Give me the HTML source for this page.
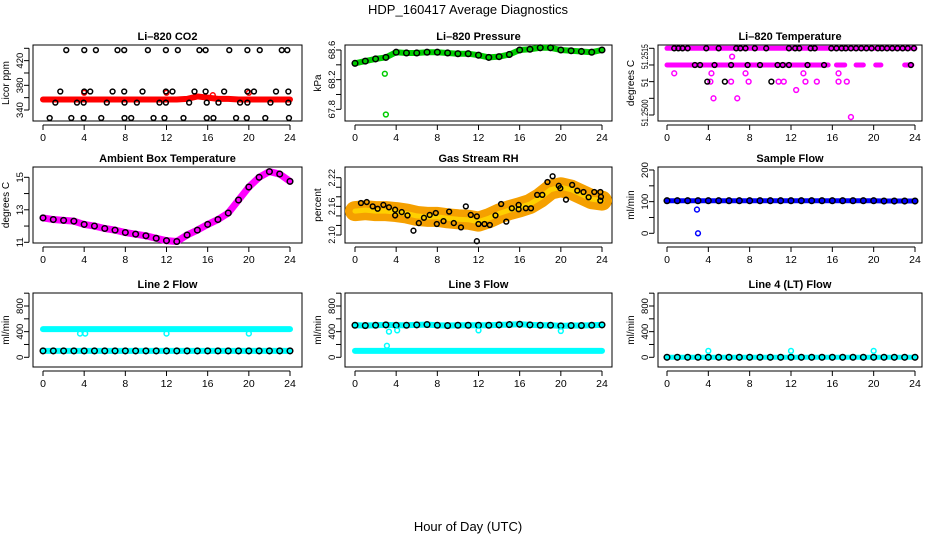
<!DOCTYPE html>
<html><head><meta charset="utf-8">
<style>
html,body{margin:0;padding:0;background:#fff;}
svg{display:block;font-family:"Liberation Sans",Arial,sans-serif;}
</style></head>
<body>
<svg id="c" width="936" height="540" viewBox="0 0 936 540" xmlns="http://www.w3.org/2000/svg">
<text x="468" y="14" text-anchor="middle" font-size="13">HDP_160417  Average Diagnostics</text>
<text x="468" y="531" text-anchor="middle" font-size="13">Hour of Day (UTC)</text>
</svg>
<script>
// ---------- data ----------
const hours = [0,1,2,3,4,5,6,7,8,9,10,11,12,13,14,15,16,17,18,19,20,21,22,23,24];
const xTicks = [0,4,8,12,16,20,24];
// CO2
const co2Red = [357,357,357,357,357,357,357,357,357,357,357,357,357,357,358,362,360,358,358,357,357,357,357,357,357];
const co2RedOutT = [4,12,16.5,20];
const co2RedOutV = [368,368,364,368];
const co2BlackT = [2.26,4.01,5.14,7.24,7.89,10.19,11.94,13.1,15.2,15.8,18.1,19.86,21.06,23.2,23.74,
 1.68,4.01,4.59,6.76,7.89,9.67,11.94,12.58,14.72,15.8,17.6,19.86,20.5,22.64,23.84,
 1.2,3.3,3.95,6.2,7.92,9.12,11.32,11.94,14.2,15.91,17.05,19.15,19.86,22.1,23.84,
 0.65,2.75,3.95,5.66,7.92,8.57,10.74,11.8,13.65,15.91,16.56,18.76,19.8,21.6,23.9];
const co2BlackV = [437,437,437,437,437,437,437,437,437,437,437,437,437,437,437,
 370,370,370,370,370,370,370,370,370,370,370,370,370,370,370,
 352,352,352,352,352,352,352,352,352,352,352,352,352,352,352,
 327,327,327,327,327,327,327,327,327,327,327,327,327,327,327];
// Pressure
const pres = [68.42,68.45,68.48,68.5,68.57,68.56,68.56,68.57,68.57,68.56,68.55,68.55,68.53,68.5,68.51,68.54,68.6,68.61,68.63,68.63,68.6,68.59,68.58,68.57,68.6];
const presOutT = [2.9,3.0];
const presOutV = [68.28,67.73];
// Li-820 temperature
const tempBandStart = [0,0,16.4,18.3,20.2,23];
const tempBandEnd = [24,15.6,17.2,19,20.7,23.7];
const tempBandV = [51.2516,51.2512,51.2512,51.2512,51.2512,51.2512];
const tempMagT = [0.7,4.3,7.6,13.2,16.6,4.2,6.2,7.9,10.8,11.3,13.4,14.5,16.6,17.4,6.3,12.5,4.5,6.8,17.8];
const tempMagV = [51.2510,51.2510,51.2510,51.2510,51.2510,51.2508,51.2508,51.2508,51.2508,51.2508,51.2508,51.2508,51.2508,51.2508,51.2514,51.2506,51.2504,51.2504,51.24995];
const tempBlkT = [0.7,1.1,1.5,2,3.8,5,6.7,7.1,7.6,8.5,9.6,11.8,12.4,12.8,13.9,14.3,15.9,16.4,16.9,17.3,17.8,18.3,18.8,19.3,19.8,20.4,20.8,21.3,21.8,22.3,22.8,23.3,23.9,
 2.7,3.2,4.6,6.2,7.8,9.0,10.7,11.2,11.8,13.6,15.2,23.6, 3.9,5.6,10.1];
const tempBlkV = [51.2516,51.2516,51.2516,51.2516,51.2516,51.2516,51.2516,51.2516,51.2516,51.2516,51.2516,51.2516,51.2516,51.2516,51.2516,51.2516,51.2516,51.2516,51.2516,51.2516,51.2516,51.2516,51.2516,51.2516,51.2516,51.2516,51.2516,51.2516,51.2516,51.2516,51.2516,51.2516,51.2516,
 51.2512,51.2512,51.2512,51.2512,51.2512,51.2512,51.2512,51.2512,51.2512,51.2512,51.2512,51.2512, 51.2508,51.2508,51.2508];
// Ambient box temperature
const amb = [12.5,12.4,12.35,12.3,12.1,12.0,11.85,11.75,11.6,11.5,11.4,11.25,11.1,11.05,11.45,11.75,12.1,12.4,12.8,13.6,14.4,15.0,15.35,15.2,14.75];
// Gas stream RH
const rh = [2.150,2.152,2.150,2.150,2.148,2.145,2.140,2.138,2.138,2.135,2.133,2.132,2.128,2.135,2.145,2.152,2.158,2.165,2.178,2.195,2.200,2.195,2.185,2.175,2.172];
const rhBlkT = [0.58,1.14,1.72,2.2,2.76,3.3,3.9,3.9,4.54,5.1,5.68,6.2,6.7,7.26,7.85,7.95,8.6,9.15,9.6,10.3,10.77,11.25,11.84,11.84,12,12.58,13.1,13.65,14.2,14.7,15.24,15.9,15.9,16.6,17.1,17.7,18.2,18.7,19.2,19.8,19.95,20.5,21.1,21.6,22.2,22.7,23.25,23.84,23.84,23.9];
const rhBlkV = [2.167,2.169,2.16,2.155,2.163,2.158,2.153,2.141,2.148,2.141,2.109,2.125,2.136,2.142,2.146,2.123,2.129,2.149,2.125,2.116,2.16,2.142,2.139,2.087,2.123,2.123,2.121,2.141,2.165,2.128,2.156,2.163,2.154,2.156,2.156,2.184,2.184,2.211,2.223,2.203,2.198,2.174,2.205,2.193,2.19,2.179,2.19,2.19,2.172,2.18];
// Sample flow
const sflow = [103,103,103,103,103,103,103,103,103,103,103,103,103,103,103,103,103,103,103,103,103,102,102,102,102];
const sflowOutT = [2.9,3.0];
const sflowOutV = [75,0];
// Line 2
const l2High = [440,440,440,440,440,440,440,440,440,440,440,440,440,440,440,440,440,440,440,440,440,440,440,440,440];
const l2Low = [100,100,100,100,100,100,100,100,100,100,100,100,100,100,100,100,100,100,100,100,100,100,100,100,100];
const l2OutT = [3.6,4.1,12,20];
const l2OutV = [370,370,370,370];
// Line 3
const l3High = [500,495,500,505,500,500,505,510,500,495,500,500,500,500,505,510,515,505,500,500,490,495,495,500,505];
const l3Low = [100,100,100,100,100,100,100,100,100,100,100,100,100,100,100,100,100,100,100,100,100,100,100,100,100];
const l3OutT = [3.1,3.3,4.1,12,20];
const l3OutV = [180,400,420,420,410];
// Line 4
const l4 = [0,0,0,0,0,0,0,0,0,0,0,0,0,0,0,0,0,0,0,0,0,0,0,0,0];
const l4OutT = [4,12,20];
const l4OutV = [100,100,100];

// ---------- drawing ----------
const svg = document.getElementById('c');
const NS = 'http://www.w3.org/2000/svg';
function mk(tag, attrs, parent){ const e=document.createElementNS(NS,tag); for(const k in attrs) e.setAttribute(k,attrs[k]); (parent||svg).appendChild(e); return e; }

function panel(o){
  const g = mk('g',{});
  
  
  const xs = t => o.x0 + (t/24)*(o.x24-o.x0);
  const ys = v => o.ya + (v-o.va)/(o.vb-o.va)*(o.yb-o.ya);
  const box = mk('rect',{x:o.L,y:o.T,width:o.R-o.L,height:o.B-o.T,fill:'none',stroke:'#000','stroke-width':1},g);
  
  
  const t = mk('text',{x:(o.L+o.R)/2,y:o.T-5,'text-anchor':'middle','font-size':11,'font-weight':'bold'},g);
  t.textContent=o.title;
  
  
  // x axis
  const xa = mk('g',{},g);
  
  
  mk('line',{x1:xs(0),x2:xs(24),y1:o.B+4,y2:o.B+4,stroke:'#000'},xa);
  xTicks.forEach(v=>{
    mk('line',{x1:xs(v),x2:xs(v),y1:o.B+4,y2:o.B+9,stroke:'#000'},xa);
    const l=mk('text',{x:xs(v),y:o.B+20,'text-anchor':'middle','font-size':10.5},xa);
    l.textContent=v;
  });
  // y axis
  const ya = mk('g',{},g);
  
  
  const ax = o.L-4;
  mk('line',{x1:ax,x2:ax,y1:ys(o.yticks[0]),y2:ys(o.yticks[o.yticks.length-1]),stroke:'#000'},ya);
  o.yticks.forEach(v=>{ mk('line',{x1:ax,x2:ax-5,y1:ys(v),y2:ys(v),stroke:'#000'},ya); });
  const fs = o.yfs || 9.5;
  o.ylabels.forEach((v,i)=>{
    const yy = ys(o.ylabelPos ? o.ylabelPos[i] : v);
    const attrs = {x:ax-9,y:yy+3,'text-anchor':'middle','font-size':fs,transform:`rotate(-90 ${ax-9} ${yy})`};
    if(o.ylabelLen) { attrs.textLength = o.ylabelLen[i]; attrs.lengthAdjust='spacingAndGlyphs'; }
    const l=mk('text',attrs,ya);
    l.textContent=v;
  });
  const yt = mk('text',{x:o.L-24,y:(o.T+o.B)/2,'text-anchor':'middle','font-size':10,transform:`rotate(-90 ${o.L-24} ${(o.T+o.B)/2})`},g);
  yt.textContent=o.ylab;
  
  
  return {g,xs,ys};
}
function band(p,ts,vs,color,w,name){
  const pl = mk('polyline',{points:ts.map((t,i)=>p.xs(t)+','+p.ys(vs[i])).join(' '),fill:'none',stroke:color,'stroke-width':w,'stroke-linecap':'round','stroke-linejoin':'round'},p.g);
  
  
}
function pts(p,ts,vs,color,name,r){
  const gg = mk('g',{},p.g);
  
  
  ts.forEach((t,i)=>{ mk('circle',{cx:p.xs(t),cy:p.ys(vs[i]),r:r||2.4,fill:'none',stroke:color,'stroke-width':1.5},gg); });
}
const C1={L:33,R:302,x0:43,x24:290}, C2={L:345,R:612,x0:355,x24:602}, C3={L:658,R:922,x0:667,x24:915};
const R1={T:45,B:121}, R2={T:167,B:243}, R3={T:293,B:367};

// Panel 1 CO2
let p = panel({...C1,...R1,name:'co2-panel',title:'Li\u2013820 CO2',ylab:'Licor ppm',va:340,ya:110,vb:440,yb:48.3,yticks:[340,360,380,400,420,440],ylabels:[340,380,420]});
band(p,hours,co2Red,'#f00',6,'co2-red-band');
pts(p,co2RedOutT,co2RedOutV,'#f00','co2-red-outliers');
pts(p,co2BlackT,co2BlackV,'#000','co2-black-points');

// Panel 2 Pressure
p = panel({...C2,...R1,name:'pressure-panel',title:'Li\u2013820 Pressure',ylab:'kPa',va:67.8,ya:109.3,vb:68.6,yb:50,yticks:[67.8,68.0,68.2,68.4,68.6],ylabels:['67.8','68.2','68.6']});
band(p,hours,pres,'#0c0',6,'pressure-green-band');
pts(p,hours,pres,'#000','pressure-black-points',2.8);
pts(p,presOutT,presOutV,'#0c0','pressure-outliers');

// Panel 3 Li-820 temperature
p = panel({...C3,...R1,name:'li820-temperature-panel',title:'Li\u2013820 Temperature',ylab:'degrees C',va:51.25,ya:115,vb:51.2516,yb:48.3,yticks:[51.25,51.2504,51.2508,51.2512,51.2516],ylabels:['51.2500','51','51.2515'],ylabelPos:[51.25005,51.25078,51.2514],ylabelLen:[27,9,25],yfs:9});
tempBandStart.forEach((s,i)=>{ band(p,[s,tempBandEnd[i]],[tempBandV[i],tempBandV[i]],'#f0f',5,'temperature-band-'+i); });
pts(p,tempMagT,tempMagV,'#f0f','temperature-magenta-points');
pts(p,tempBlkT,tempBlkV,'#000','temperature-black-points');

// Panel 4 Ambient
p = panel({...C1,...R2,name:'ambient-temperature-panel',title:'Ambient Box Temperature',ylab:'degrees C',va:11,ya:242.3,vb:15,yb:177.3,yticks:[11,12,13,14,15],ylabels:[11,13,15]});
band(p,hours,amb,'#f0f',7,'ambient-magenta-band');
pts(p,hours,amb,'#000','ambient-black-points',2.8);

// Panel 5 RH
p = panel({...C2,...R2,name:'rh-panel',title:'Gas Stream RH',ylab:'percent',va:2.10,ya:235,vb:2.22,yb:177.7,yticks:[2.10,2.12,2.14,2.16,2.18,2.20,2.22],ylabels:['2.10','2.16','2.22'],yfs:9});
band(p,hours,rh,'#f5a000',20,'rh-orange-cloud');
band(p,hours,rh,'#ffd000',5,'rh-yellow-core');
pts(p,rhBlkT,rhBlkV,'#000','rh-black-points');

// Panel 6 Sample flow
p = panel({...C3,...R2,name:'sample-flow-panel',title:'Sample Flow',ylab:'ml/min',va:0,ya:233.3,vb:200,yb:170,yticks:[0,50,100,150,200],ylabels:[0,100,200]});
band(p,hours,sflow,'#00f',5,'sample-flow-blue-band');
pts(p,hours,sflow,'#000','sample-flow-black-points',2.8);
pts(p,sflowOutT,sflowOutV,'#00f','sample-flow-outliers');

// Row 3
const row3 = {va:0,ya:357.3,vb:800,yb:306,yticks:[0,200,400,600,800,1000],ylabels:[0,400,800],ylab:'ml/min'};
p = panel({...C1,...R3,...row3,name:'line2-flow-panel',title:'Line 2 Flow'});
band(p,hours,l2High,'#0ff',6,'line2-high-band');
band(p,hours,l2Low,'#0ff',6,'line2-low-band');
pts(p,hours,l2Low,'#000','line2-black-points',2.8);
pts(p,l2OutT,l2OutV,'#0ff','line2-outliers');

p = panel({...C2,...R3,...row3,name:'line3-flow-panel',title:'Line 3 Flow'});
band(p,hours,l3High,'#0ff',6,'line3-high-band');
band(p,hours,l3Low,'#0ff',6,'line3-low-band');
pts(p,hours,l3High,'#000','line3-black-points',2.8);
pts(p,l3OutT,l3OutV,'#0ff','line3-outliers');

p = panel({...C3,...R3,...row3,name:'line4-flow-panel',title:'Line 4 (LT) Flow'});
band(p,hours,l4,'#0ff',5,'line4-band');
pts(p,hours,l4,'#000','line4-black-points',2.8);
pts(p,l4OutT,l4OutV,'#0ff','line4-outliers');
</script>
</body></html>
